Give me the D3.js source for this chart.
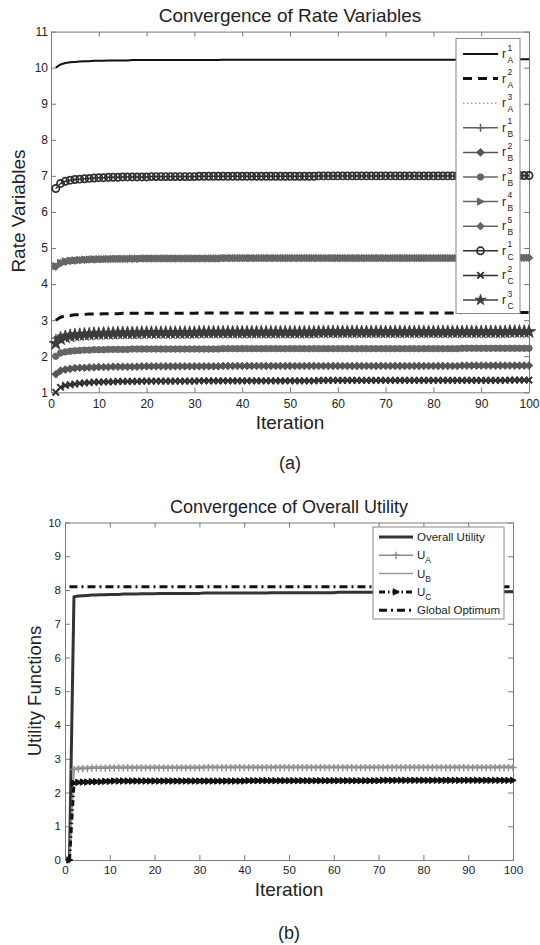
<!DOCTYPE html>
<html><head><meta charset="utf-8">
<script src="https://cdn.jsdelivr.net/npm/d3@7"></script>
<style>body{margin:0;background:#fff}svg{display:block}text{font-family:"Liberation Sans",Arial,sans-serif;fill:#222}</style>
</head><body><svg id="c" width="540" height="945"></svg>
<script>
// ---------- data ----------
const iterations = d3.range(1, 101);
const xTicks = [0,10,20,30,40,50,60,70,80,90,100];
const yTicksA = [1,2,3,4,5,6,7,8,9,10,11];
const yTicksB = [0,1,2,3,4,5,6,7,8,9,10];

const rA1 = [10.00,10.09,10.13,10.15,10.16,10.17,10.18,10.18,10.19,10.19,
10.19,10.20,10.20,10.20,10.20,10.20,10.21,10.21,10.21,10.21,
10.21,10.21,10.21,10.21,10.21,10.21,10.21,10.21,10.21,10.21,
10.21,10.21,10.21,10.21,10.21,10.22,10.22,10.22,10.22,10.22,
10.22,10.22,10.22,10.22,10.22,10.22,10.22,10.22,10.22,10.22,
10.22,10.22,10.22,10.22,10.22,10.22,10.22,10.22,10.22,10.22,
10.22,10.22,10.22,10.22,10.22,10.22,10.22,10.22,10.22,10.22,
10.22,10.22,10.22,10.22,10.22,10.22,10.22,10.22,10.22,10.22,
10.22,10.22,10.22,10.22,10.22,10.23,10.23,10.23,10.23,10.23,
10.23,10.23,10.23,10.23,10.23,10.23,10.23,10.23,10.23,10.23];
const rA2 = [3.00,3.08,3.12,3.13,3.15,3.15,3.16,3.17,3.17,3.17,
3.18,3.18,3.18,3.18,3.19,3.19,3.19,3.19,3.19,3.19,
3.19,3.19,3.19,3.19,3.19,3.19,3.19,3.19,3.19,3.19,
3.20,3.20,3.20,3.20,3.20,3.20,3.20,3.20,3.20,3.20,
3.20,3.20,3.20,3.20,3.20,3.20,3.20,3.20,3.20,3.20,
3.20,3.20,3.20,3.20,3.20,3.20,3.20,3.20,3.20,3.20,
3.20,3.20,3.20,3.20,3.20,3.20,3.20,3.20,3.20,3.20,
3.20,3.20,3.20,3.20,3.20,3.20,3.20,3.20,3.20,3.20,
3.20,3.20,3.20,3.20,3.20,3.21,3.21,3.21,3.21,3.21,
3.21,3.21,3.21,3.21,3.21,3.21,3.21,3.21,3.21,3.21];
const rB1 = [2.50,2.58,2.61,2.63,2.64,2.65,2.65,2.66,2.66,2.67,
2.67,2.67,2.67,2.67,2.68,2.68,2.68,2.68,2.68,2.68,
2.68,2.68,2.68,2.68,2.68,2.68,2.68,2.68,2.68,2.68,
2.69,2.69,2.69,2.69,2.69,2.69,2.69,2.69,2.69,2.69,
2.69,2.69,2.69,2.69,2.69,2.69,2.69,2.69,2.69,2.69,
2.69,2.69,2.69,2.69,2.69,2.69,2.69,2.69,2.69,2.69,
2.69,2.69,2.69,2.69,2.69,2.69,2.69,2.69,2.69,2.69,
2.69,2.69,2.69,2.69,2.69,2.69,2.69,2.69,2.69,2.69,
2.69,2.69,2.69,2.69,2.69,2.70,2.70,2.70,2.70,2.70,
2.70,2.70,2.70,2.70,2.70,2.70,2.70,2.70,2.70,2.70];
const rB2 = [1.50,1.60,1.63,1.65,1.67,1.68,1.68,1.69,1.69,1.70,
1.70,1.70,1.71,1.71,1.71,1.71,1.71,1.71,1.72,1.72,
1.72,1.72,1.72,1.72,1.72,1.72,1.72,1.72,1.72,1.72,
1.72,1.72,1.72,1.72,1.72,1.73,1.73,1.73,1.73,1.73,
1.73,1.73,1.73,1.73,1.73,1.73,1.73,1.73,1.73,1.73,
1.73,1.73,1.73,1.73,1.73,1.73,1.73,1.73,1.73,1.73,
1.73,1.73,1.73,1.73,1.73,1.73,1.73,1.73,1.73,1.73,
1.73,1.73,1.73,1.73,1.73,1.73,1.73,1.73,1.73,1.73,
1.73,1.73,1.73,1.73,1.73,1.74,1.74,1.74,1.74,1.74,
1.74,1.74,1.74,1.74,1.74,1.74,1.74,1.74,1.74,1.74];
const rB3 = [2.00,2.09,2.12,2.14,2.15,2.16,2.17,2.17,2.18,2.18,
2.18,2.19,2.19,2.19,2.19,2.19,2.20,2.20,2.20,2.20,
2.20,2.20,2.20,2.20,2.20,2.20,2.20,2.20,2.20,2.20,
2.20,2.20,2.20,2.20,2.20,2.21,2.21,2.21,2.21,2.21,
2.21,2.21,2.21,2.21,2.21,2.21,2.21,2.21,2.21,2.21,
2.21,2.21,2.21,2.21,2.21,2.21,2.21,2.21,2.21,2.21,
2.21,2.21,2.21,2.21,2.21,2.21,2.21,2.21,2.21,2.21,
2.21,2.21,2.21,2.21,2.21,2.21,2.21,2.21,2.21,2.21,
2.21,2.21,2.21,2.21,2.21,2.22,2.22,2.22,2.22,2.22,
2.22,2.22,2.22,2.22,2.22,2.22,2.22,2.22,2.22,2.22];
// r_A^3 is not visible: it lies under the r_B^3 markers
const rA3 = rB3.slice();
const rB4 = [4.50,4.59,4.63,4.65,4.66,4.67,4.68,4.68,4.69,4.69,
4.69,4.70,4.70,4.70,4.70,4.70,4.71,4.71,4.71,4.71,
4.71,4.71,4.71,4.71,4.71,4.71,4.71,4.71,4.71,4.71,
4.71,4.71,4.71,4.71,4.71,4.72,4.72,4.72,4.72,4.72,
4.72,4.72,4.72,4.72,4.72,4.72,4.72,4.72,4.72,4.72,
4.72,4.72,4.72,4.72,4.72,4.72,4.72,4.72,4.72,4.72,
4.72,4.72,4.72,4.72,4.72,4.72,4.72,4.72,4.72,4.72,
4.72,4.72,4.72,4.72,4.72,4.72,4.72,4.72,4.72,4.72,
4.72,4.72,4.72,4.72,4.72,4.73,4.73,4.73,4.73,4.73,
4.73,4.73,4.73,4.73,4.73,4.73,4.73,4.73,4.73,4.73];
const rB5 = [4.48,4.58,4.62,4.64,4.65,4.66,4.67,4.68,4.68,4.69,
4.69,4.69,4.70,4.70,4.70,4.70,4.70,4.70,4.71,4.71,
4.71,4.71,4.71,4.71,4.71,4.71,4.71,4.71,4.71,4.71,
4.71,4.71,4.71,4.71,4.71,4.72,4.72,4.72,4.72,4.72,
4.72,4.72,4.72,4.72,4.72,4.72,4.72,4.72,4.72,4.72,
4.72,4.72,4.72,4.72,4.72,4.72,4.72,4.72,4.72,4.72,
4.72,4.72,4.72,4.72,4.72,4.72,4.72,4.72,4.72,4.72,
4.72,4.72,4.72,4.72,4.72,4.72,4.72,4.72,4.72,4.72,
4.72,4.72,4.72,4.72,4.72,4.73,4.73,4.73,4.73,4.73,
4.73,4.73,4.73,4.73,4.73,4.73,4.73,4.73,4.73,4.73];
const rC1 = [6.65,6.79,6.85,6.88,6.90,6.91,6.92,6.93,6.94,6.95,
6.95,6.96,6.96,6.96,6.97,6.97,6.97,6.97,6.97,6.97,
6.98,6.98,6.98,6.98,6.98,6.98,6.98,6.98,6.98,6.98,
6.99,6.99,6.99,6.99,6.99,6.99,6.99,6.99,6.99,6.99,
6.99,6.99,6.99,6.99,6.99,6.99,6.99,6.99,6.99,6.99,
6.99,6.99,6.99,6.99,6.99,7.00,7.00,7.00,7.00,7.00,
7.00,7.00,7.00,7.00,7.00,7.00,7.00,7.00,7.00,7.00,
7.00,7.00,7.00,7.00,7.00,7.00,7.00,7.00,7.00,7.00,
7.00,7.00,7.00,7.00,7.00,7.00,7.00,7.00,7.00,7.00,
7.00,7.00,7.00,7.00,7.00,7.01,7.01,7.01,7.01,7.01];
const rC2 = [1.00,1.14,1.19,1.21,1.23,1.25,1.26,1.27,1.28,1.28,
1.29,1.29,1.29,1.30,1.30,1.30,1.30,1.30,1.31,1.31,
1.31,1.31,1.31,1.31,1.31,1.31,1.31,1.31,1.31,1.31,
1.32,1.32,1.32,1.32,1.32,1.32,1.32,1.32,1.32,1.32,
1.32,1.32,1.32,1.32,1.32,1.32,1.32,1.32,1.32,1.32,
1.32,1.32,1.32,1.32,1.32,1.33,1.33,1.33,1.33,1.33,
1.33,1.33,1.33,1.33,1.33,1.33,1.33,1.33,1.33,1.33,
1.33,1.33,1.33,1.33,1.33,1.33,1.33,1.33,1.33,1.33,
1.33,1.33,1.33,1.33,1.33,1.33,1.33,1.33,1.33,1.33,
1.33,1.33,1.33,1.33,1.33,1.34,1.34,1.34,1.34,1.34];
const rC3 = [2.35,2.48,2.53,2.56,2.58,2.59,2.60,2.61,2.62,2.62,
2.63,2.63,2.63,2.64,2.64,2.64,2.64,2.64,2.65,2.65,
2.65,2.65,2.65,2.65,2.65,2.65,2.65,2.65,2.65,2.65,
2.66,2.66,2.66,2.66,2.66,2.66,2.66,2.66,2.66,2.66,
2.66,2.66,2.66,2.66,2.66,2.66,2.66,2.66,2.66,2.66,
2.66,2.66,2.66,2.66,2.66,2.67,2.67,2.67,2.67,2.67,
2.67,2.67,2.67,2.67,2.67,2.67,2.67,2.67,2.67,2.67,
2.67,2.67,2.67,2.67,2.67,2.67,2.67,2.67,2.67,2.67,
2.67,2.67,2.67,2.67,2.67,2.67,2.67,2.67,2.67,2.67,
2.67,2.67,2.67,2.67,2.67,2.68,2.68,2.68,2.68,2.68];

const uOverall = [0,7.80,7.82,7.83,7.84,7.85,7.85,7.86,7.86,7.87,
7.87,7.87,7.88,7.88,7.88,7.88,7.89,7.89,7.89,7.89,
7.90,7.90,7.90,7.90,7.90,7.90,7.90,7.90,7.90,7.90,
7.91,7.91,7.91,7.91,7.91,7.91,7.91,7.91,7.91,7.91,
7.91,7.91,7.91,7.91,7.91,7.92,7.92,7.92,7.92,7.92,
7.92,7.92,7.92,7.92,7.92,7.92,7.92,7.92,7.92,7.92,
7.93,7.93,7.93,7.93,7.93,7.93,7.93,7.93,7.93,7.93,
7.93,7.93,7.93,7.93,7.93,7.94,7.94,7.94,7.94,7.94,
7.94,7.94,7.94,7.94,7.94,7.94,7.94,7.94,7.94,7.94,
7.95,7.95,7.95,7.95,7.95,7.95,7.95,7.95,7.95,7.95];
const uA = [0,2.68,2.70,2.71,2.71,2.72,2.72,2.72,2.72,2.73,
2.73,2.73,2.73,2.73,2.73,2.73,2.73,2.73,2.73,2.73,
2.73,2.73,2.73,2.73,2.73,2.73,2.73,2.73,2.73,2.73,
2.74,2.74,2.74,2.74,2.74,2.74,2.74,2.74,2.74,2.74,
2.74,2.74,2.74,2.74,2.74,2.74,2.74,2.74,2.74,2.74,
2.74,2.74,2.74,2.74,2.74,2.74,2.74,2.74,2.74,2.74,
2.74,2.74,2.74,2.74,2.74,2.74,2.74,2.74,2.74,2.74,
2.74,2.74,2.74,2.74,2.74,2.74,2.74,2.74,2.74,2.74,
2.74,2.74,2.74,2.74,2.74,2.74,2.74,2.74,2.74,2.74,
2.74,2.74,2.74,2.74,2.74,2.74,2.74,2.74,2.74,2.74];
const uB = [0,2.72,2.74,2.75,2.75,2.76,2.76,2.76,2.76,2.77,
2.77,2.77,2.77,2.77,2.77,2.77,2.77,2.77,2.77,2.77,
2.77,2.77,2.77,2.77,2.77,2.77,2.77,2.77,2.77,2.77,
2.78,2.78,2.78,2.78,2.78,2.78,2.78,2.78,2.78,2.78,
2.78,2.78,2.78,2.78,2.78,2.78,2.78,2.78,2.78,2.78,
2.78,2.78,2.78,2.78,2.78,2.78,2.78,2.78,2.78,2.78,
2.78,2.78,2.78,2.78,2.78,2.78,2.78,2.78,2.78,2.78,
2.78,2.78,2.78,2.78,2.78,2.78,2.78,2.78,2.78,2.78,
2.78,2.78,2.78,2.78,2.78,2.78,2.78,2.78,2.78,2.78,
2.78,2.78,2.78,2.78,2.78,2.78,2.78,2.78,2.78,2.78];
const uC = [0,2.28,2.30,2.31,2.31,2.32,2.32,2.32,2.33,2.33,
2.34,2.34,2.34,2.34,2.34,2.34,2.34,2.34,2.34,2.34,
2.34,2.34,2.34,2.34,2.34,2.34,2.34,2.34,2.34,2.34,
2.34,2.34,2.34,2.34,2.34,2.34,2.34,2.34,2.34,2.34,
2.35,2.35,2.35,2.35,2.35,2.35,2.35,2.35,2.35,2.35,
2.35,2.35,2.35,2.35,2.35,2.35,2.35,2.35,2.35,2.35,
2.35,2.35,2.35,2.35,2.35,2.35,2.35,2.35,2.35,2.35,
2.36,2.36,2.36,2.36,2.36,2.36,2.36,2.36,2.36,2.36,
2.36,2.36,2.36,2.36,2.36,2.36,2.36,2.36,2.36,2.36,
2.36,2.36,2.36,2.36,2.36,2.36,2.36,2.36,2.36,2.36];
const globalOptimumValue = 8.10;
const uGlobal = iterations.map(() => globalOptimumValue);

const labelsA = [["1","A"],["2","A"],["3","A"],["1","B"],["2","B"],["3","B"],["4","B"],["5","B"],["1","C"],["2","C"],["3","C"]];
const labelsB = ["Overall Utility","U|A","U|B","U|C","Global Optimum"];

// ---------- marker shapes ----------
const M = {
  none: null,
  plus: r => `M${-r},0H${r}M0,${-r}V${r}`,
  x: r => `M${-r},${-r}L${r},${r}M${-r},${r}L${r},${-r}`,
  diamond: r => `M0,${-r}L${r},0L0,${r}L${-r},0Z`,
  tri: r => `M${r},0L${-r*0.85},${-r}L${-r*0.85},${r}Z`,
  circle: r => d3.symbol(d3.symbolCircle, Math.PI*r*r)(),
  star: r => d3.symbol(d3.symbolStar, r*r*3.2)()
};

const svg = d3.select("#c");
const AX = "#7a7a7a";

function drawAxes(g, x, y, yTicks, fs, padX, padY) {
  const [x0,x1] = x.range(), [y0,y1] = y.range();
  const b = g.append("g").attr("transform",`translate(0,${y0})`)
    .call(d3.axisBottom(x).tickValues(xTicks).tickSizeInner(-5).tickSizeOuter(0).tickPadding(padX));
  const t = g.append("g").attr("transform",`translate(0,${y1})`)
    .call(d3.axisTop(x).tickValues(xTicks).tickSizeInner(-5).tickSizeOuter(0).tickFormat(""));
  const l = g.append("g").attr("transform",`translate(${x0},0)`)
    .call(d3.axisLeft(y).tickValues(yTicks).tickSizeInner(-5).tickSizeOuter(0).tickPadding(padY));
  const r = g.append("g").attr("transform",`translate(${x1},0)`)
    .call(d3.axisRight(y).tickValues(yTicks).tickSizeInner(-5).tickSizeOuter(0).tickFormat(""));
  [b,t,l,r].forEach(a => {
    a.select(".domain").attr("stroke", AX).attr("stroke-width", 1);
    a.selectAll(".tick line").attr("stroke", AX);
    a.selectAll("text").attr("font-size", fs).attr("fill", "#333")
      .style("font-family", '"Liberation Sans",Arial,sans-serif');
  });
}

function drawSeries(g, x, y, s) {
  const pts = iterations.map((it,i) => [it, s.data[i]]);
  g.append("path").datum(pts)
    .attr("d", d3.line().x(d=>x(d[0])).y(d=>y(d[1])))
    .attr("fill","none").attr("stroke", s.color).attr("stroke-width", s.w)
    .attr("stroke-dasharray", s.dash || null).attr("stroke-linejoin","round");
  if (s.marker !== "none") {
    g.append("g").selectAll("path").data(pts).join("path")
      .attr("transform", d => `translate(${x(d[0])},${y(d[1])})`)
      .attr("d", M[s.marker](s.r))
      .attr("fill", s.fill).attr("stroke", s.color).attr("stroke-width", s.mw);
  }
}

function legendSample(g, s, xa, xb, yy) {
  g.append("line").attr("x1",xa).attr("x2",xb).attr("y1",yy).attr("y2",yy)
    .attr("stroke", s.color).attr("stroke-width", s.w).attr("stroke-dasharray", s.dash || null);
  if (s.marker !== "none") {
    g.append("path").attr("transform",`translate(${(xa+xb)/2},${yy})`)
      .attr("d", M[s.marker](s.lr || s.r)).attr("fill", s.fill).attr("stroke", s.color).attr("stroke-width", s.mw);
  }
}

// ---------- panel (a) ----------
const xA = d3.scaleLinear().domain([0,100]).range([51,529]);
const yA = d3.scaleLinear().domain([1,11]).range([392.3,31.6]);
const gA = svg.append("g");
drawAxes(gA, xA, yA, yTicksA, 12, 7, 3);

const seriesA = [
  {data:rA1, color:"#111", w:2,   marker:"none"},
  {data:rA2, color:"#111", w:3,   marker:"none", dash:"9,6"},
  {data:rA3, color:"#777", w:1,   marker:"none", dash:"1.5,2.5"},
  {data:rB1, color:"#5e5e5e", w:1.5, marker:"plus",    r:4,   fill:"none", mw:1.5},
  {data:rB2, color:"#555", w:1.5, marker:"diamond", r:3.8, fill:"#555", mw:1},
  {data:rB3, color:"#666", w:1.5, marker:"circle",  r:3.2, fill:"#666", mw:1},
  {data:rB4, color:"#626262", w:1.5, marker:"tri",     r:3.6, fill:"#626262", mw:1},
  {data:rB5, color:"#666", w:1.5, marker:"diamond", r:3.8, fill:"#666", mw:1},
  {data:rC1, color:"#2e2e2e", w:1.5, marker:"circle",  r:3.6, fill:"none", mw:1.7},
  {data:rC2, color:"#2e2e2e", w:1.5, marker:"x",       r:3.2, fill:"none", mw:1.9},
  {data:rC3, color:"#3c3c3c", w:1.5, marker:"star",    r:4.2, lr:3.4, fill:"#3c3c3c", mw:0.8}
];
seriesA.forEach(s => drawSeries(gA, xA, yA, s));

// legend (a)
const legA = gA.append("g");
legA.append("rect").attr("x",456).attr("y",38.5).attr("width",64).attr("height",275)
  .attr("fill","#fff").attr("stroke","#888").attr("stroke-width",1);
seriesA.forEach((s,i) => {
  const yy = 54 + i*24.6;
  legendSample(legA, s, 463, 498, yy);
  legA.append("text").attr("x",502).attr("y",yy+4).attr("font-size",12).text("r");
  legA.append("text").attr("x",507.5).attr("y",yy-3.5).attr("font-size",8.5).text(labelsA[i][0]);
  legA.append("text").attr("x",507.5).attr("y",yy+9).attr("font-size",8.5).text(labelsA[i][1]);
});

svg.append("text").attr("x",290).attr("y",22).attr("text-anchor","middle").attr("font-size",19)
  .text("Convergence of Rate Variables");
svg.append("text").attr("transform","translate(25,211) rotate(-90)").attr("text-anchor","middle")
  .attr("font-size",19).text("Rate Variables");
svg.append("text").attr("x",290).attr("y",429).attr("text-anchor","middle").attr("font-size",19).text("Iteration");
svg.append("text").attr("x",290).attr("y",469).attr("text-anchor","middle").attr("font-size",18).text("(a)");

// ---------- panel (b) ----------
const xB = d3.scaleLinear().domain([0,100]).range([65,513]);
const yB = d3.scaleLinear().domain([0,10]).range([860,522.5]);
const gB = svg.append("g");
drawAxes(gB, xB, yB, yTicksB, 11.5, 6, 4);

const seriesB = [
  {data:uOverall, color:"#333", w:3, marker:"none"},
  {data:uA, color:"#8c8c8c", w:1.5, marker:"plus", r:3.6, fill:"none", mw:1.4},
  {data:uB, color:"#999", w:1.5, marker:"none"},
  {data:uC, color:"#111", w:3, marker:"tri", r:3.2, fill:"#111", mw:1, dash:"6,3,1.5,3"},
  {data:uGlobal, color:"#111", w:3, marker:"none", dash:"8,4,2,4"}
];
seriesB.forEach(s => drawSeries(gB, xB, yB, s));

const legB = gB.append("g");
legB.append("rect").attr("x",373).attr("y",527).attr("width",131).attr("height",92)
  .attr("fill","#fff").attr("stroke","#888").attr("stroke-width",1);
seriesB.forEach((s,i) => {
  const yy = 537 + i*18.3;
  legendSample(legB, s, 379, 413, yy);
  const parts = labelsB[i].split("|");
  const t = legB.append("text").attr("x",417).attr("y",yy+4).attr("font-size",11.5).text(parts[0]);
  if (parts[1]) t.append("tspan").attr("font-size",8.5).attr("dy",4).text(parts[1]);
});

svg.append("text").attr("x",289).attr("y",512.5).attr("text-anchor","middle").attr("font-size",18)
  .text("Convergence of Overall Utility");
svg.append("text").attr("transform","translate(41,691) rotate(-90)").attr("text-anchor","middle")
  .attr("font-size",18.5).text("Utility Functions");
svg.append("text").attr("x",289).attr("y",896).attr("text-anchor","middle").attr("font-size",19).text("Iteration");
svg.append("text").attr("x",289).attr("y",939).attr("text-anchor","middle").attr("font-size",18).text("(b)");
</script></body></html>
